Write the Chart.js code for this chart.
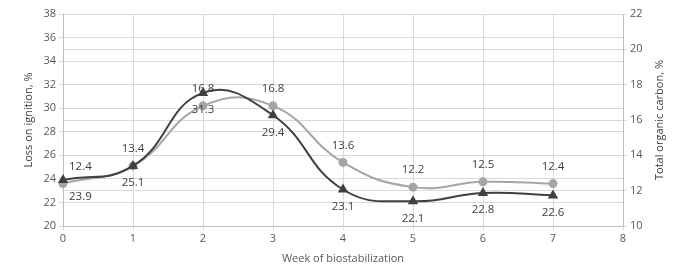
<!DOCTYPE html>
<html>
<head>
<meta charset="utf-8">
<script src="https://cdn.jsdelivr.net/npm/chart.js@4"></script>
<style>
  html, body { margin: 0; padding: 0; background: #fff; }
  #wrap { width: 694px; height: 269px; }
</style>
</head>
<body>
<div id="wrap"><canvas id="bioChart" width="694" height="269"></canvas></div>
<script>
// weeks and the two measured series
var weeks = [0, 1, 2, 3, 4, 5, 6, 7];
var lossOnIgnition = [23.9, 25.1, 31.3, 29.4, 23.1, 22.1, 22.8, 22.6];
var organicCarbon = [12.4, 13.4, 16.8, 16.8, 13.6, 12.2, 12.5, 12.4];

var darkGrey = '#404040';
var lightGrey = '#a5a5a5';
var font = "'Open Sans', 'Liberation Sans', sans-serif";

function toPoints(values) {
  return weeks.map(function (w, i) { return { x: w, y: values[i] }; });
}

// simple value labels: LOI below the point, TOC above
var valueLabels = {
  id: 'valueLabels',
  afterDatasetsDraw: function (chart) {
    var ctx = chart.ctx;
    ctx.save();
    ctx.font = '11.5px ' + font;
    ctx.fillStyle = darkGrey;
    ctx.textBaseline = 'middle';
    chart.data.datasets.forEach(function (ds, di) {
      var meta = chart.getDatasetMeta(di);
      meta.data.forEach(function (pt, i) {
        var dy = di === 0 ? 17 : -17;
        var x = pt.x;
        ctx.textAlign = 'center';
        if (i === 0) { ctx.textAlign = 'left'; x += 6; }
        ctx.fillText(ds.data[i].y.toFixed(1), x, pt.y + dy);
      });
    });
    // right axis title, reading bottom to top like the left one
    var area = chart.chartArea;
    ctx.translate(660, (area.top + area.bottom) / 2);
    ctx.rotate(-Math.PI / 2);
    ctx.textAlign = 'center';
    ctx.font = '11px ' + font;
    ctx.fillText('Total organic carbon, %', 0, 0);
    ctx.restore();
  }
};

var ctx = document.getElementById('bioChart').getContext('2d');
var chart = new Chart(ctx, {
  type: 'line',
  data: {
    datasets: [{
      label: 'Loss on ignition, %',
      data: toPoints(lossOnIgnition),
      yAxisID: 'yLeft',
      borderColor: darkGrey,
      backgroundColor: darkGrey,
      borderWidth: 2,
      pointStyle: 'triangle',
      pointRadius: 4,
      tension: 0.45,
      clip: false
    }, {
      label: 'Total organic carbon, %',
      data: toPoints(organicCarbon),
      yAxisID: 'yRight',
      borderColor: lightGrey,
      backgroundColor: lightGrey,
      borderWidth: 2,
      pointStyle: 'circle',
      pointRadius: 3.5,
      tension: 0.45,
      clip: false
    }]
  },
  options: {
    responsive: false,
    animation: false,
    layout: { padding: { top: 14 } },
    plugins: { legend: { display: false }, tooltip: { enabled: false } },
    scales: {
      x: {
        type: 'linear',
        min: 0, max: 8,
        ticks: { stepSize: 1, color: '#595959', font: { family: font, size: 11 }, padding: 2 },
        grid: { color: '#d9d9d9', tickLength: 4 },
        border: { color: '#bfbfbf' },
        title: { display: true, text: 'Week of biostabilization', color: '#595959', font: { family: font, size: 11 }, padding: { top: 4 } },
        afterFit: function (s) { s.height = 43; }
      },
      yLeft: {
        position: 'left',
        min: 20, max: 38,
        ticks: { stepSize: 2, color: '#595959', font: { family: font, size: 11 }, padding: 3 },
        grid: { color: '#d9d9d9', tickLength: 4 },
        border: { color: '#bfbfbf' },
        title: { display: true, text: 'Loss on ignition, %', color: '#404040', font: { family: font, size: 11 }, padding: { top: 22, bottom: 0 } },
        afterFit: function (s) { s.width = 63; }
      },
      yRight: {
        position: 'right',
        min: 10, max: 22,
        ticks: { stepSize: 2, color: '#595959', font: { family: font, size: 11 }, padding: 3 },
        grid: { color: '#d9d9d9', tickLength: 4 },
        border: { color: '#bfbfbf' },
        afterFit: function (s) { s.width = 71; }
      }
    }
  },
  plugins: [valueLabels]
});
</script>
</body>
</html>
